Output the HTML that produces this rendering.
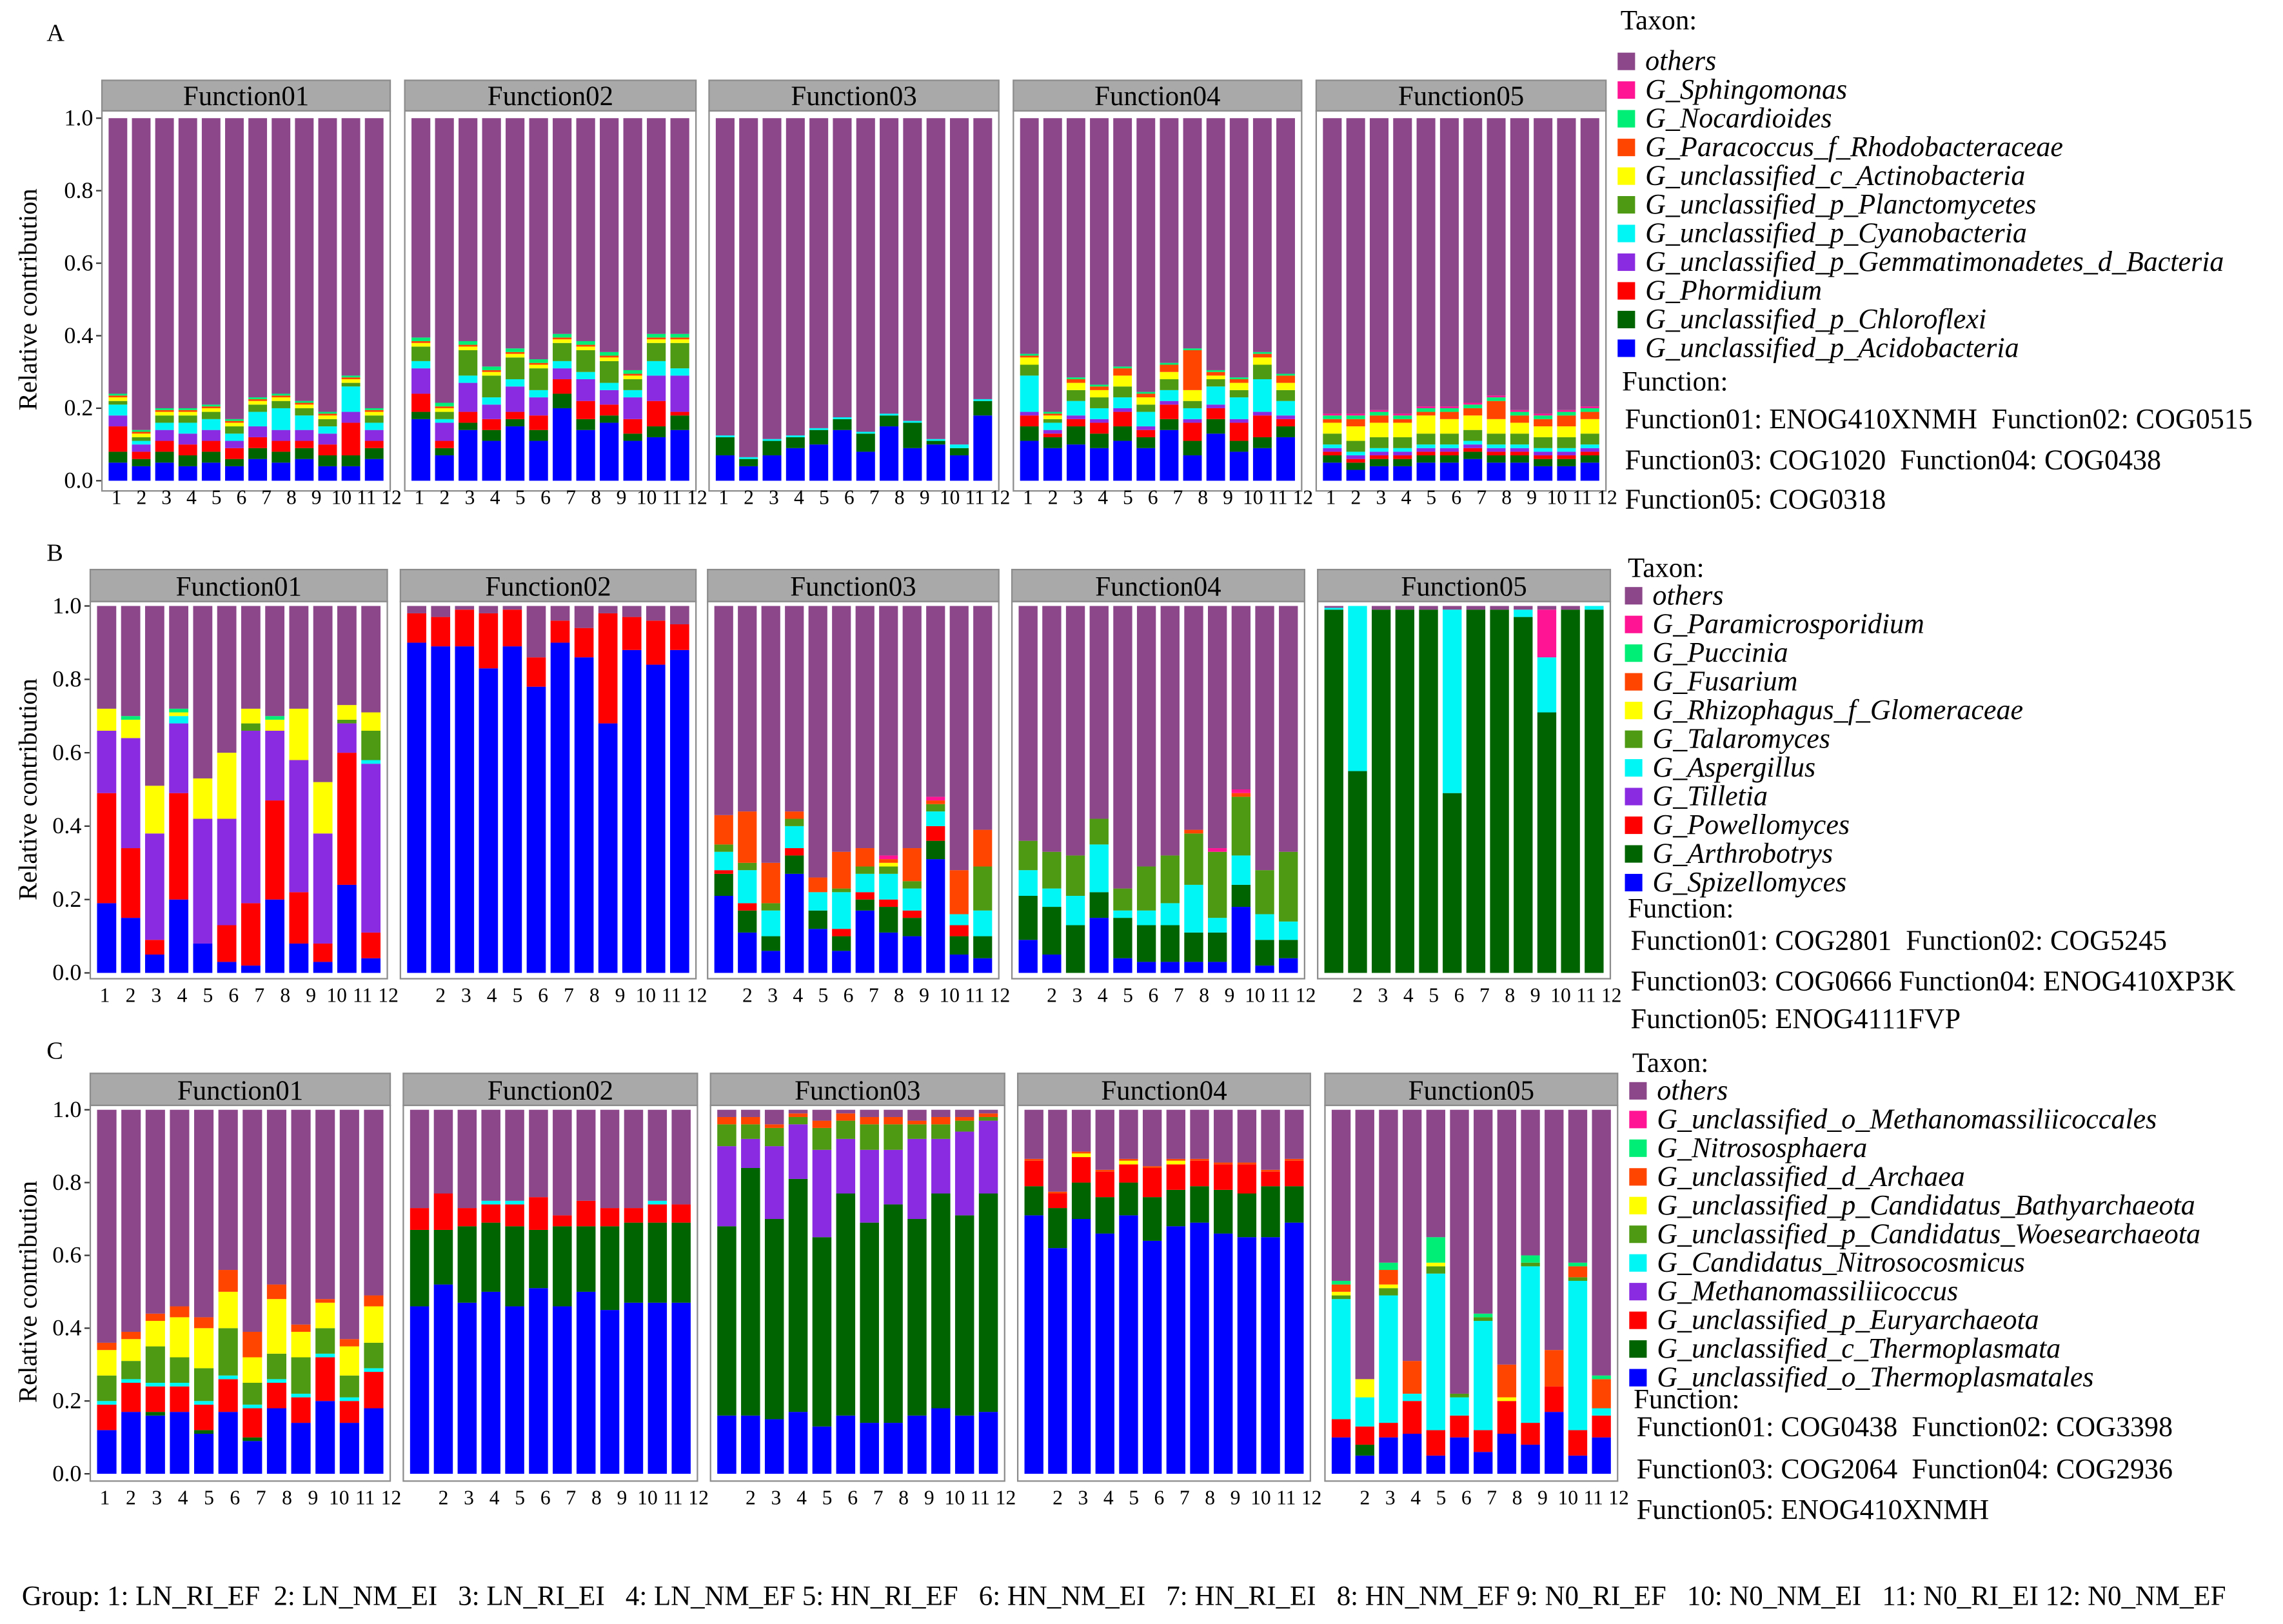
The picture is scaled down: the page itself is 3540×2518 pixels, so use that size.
<!DOCTYPE html>
<html><head><meta charset="utf-8">
<style>
html,body{margin:0;padding:0;background:#fff;}
svg{display:block;}
text{font-family:"Liberation Serif",serif;fill:#000;white-space:pre;}
.it{font-style:italic;}
</style></head>
<body>
<svg id="chart" width="3540" height="2518" viewBox="0 0 1568 1115" xmlns="http://www.w3.org/2000/svg">
<rect x="0" y="0" width="1568" height="1115" fill="#fff"/>
</svg>
<script>
// ---------- data ----------
const groups = ['1','2','3','4','5','6','7','8','9','10','11','12'];
const yTicks = [0, 0.2, 0.4, 0.6, 0.8, 1.0];
const yTickLabels = ['0.0','0.2','0.4','0.6','0.8','1.0'];
const panelTitles = ['Function01','Function02','Function03','Function04','Function05'];
const colors = ['#0000FF','#006400','#FF0000','#8A2BE2','#00F5F5','#4E9A12','#FFFF00','#FF4500','#00EE76','#FF1493'];
const othersColor = '#8B4789';

const taxaA = ['others','G_Sphingomonas','G_Nocardioides','G_Paracoccus_f_Rhodobacteraceae','G_unclassified_c_Actinobacteria','G_unclassified_p_Planctomycetes','G_unclassified_p_Cyanobacteria','G_unclassified_p_Gemmatimonadetes_d_Bacteria','G_Phormidium','G_unclassified_p_Chloroflexi','G_unclassified_p_Acidobacteria'];
const taxaB = ['others','G_Paramicrosporidium','G_Puccinia','G_Fusarium','G_Rhizophagus_f_Glomeraceae','G_Talaromyces','G_Aspergillus','G_Tilletia','G_Powellomyces','G_Arthrobotrys','G_Spizellomyces'];
const taxaC = ['others','G_unclassified_o_Methanomassiliicoccales','G_Nitrososphaera','G_unclassified_d_Archaea','G_unclassified_p_Candidatus_Bathyarchaeota','G_unclassified_p_Candidatus_Woesearchaeota','G_Candidatus_Nitrosocosmicus','G_Methanomassiliicoccus','G_unclassified_p_Euryarchaeota','G_unclassified_c_Thermoplasmata','G_unclassified_o_Thermoplasmatales'];
const funcA = ['Function01: ENOG410XNMH  Function02: COG0515','Function03: COG1020  Function04: COG0438','Function05: COG0318'];
const funcB = ['Function01: COG2801  Function02: COG5245','Function03: COG0666 Function04: ENOG410XP3K','Function05: ENOG4111FVP'];
const funcC = ['Function01: COG0438  Function02: COG3398','Function03: COG2064  Function04: COG2936','Function05: ENOG410XNMH'];

const z = [0,0,0,0,0,0,0,0,0,0,0,0];
const s1 = [.01,.01,.01,.01,.01,.01,.01,.01,.01,.01,.01,.01];
const s05 = [.005,.005,.005,.005,.005,.005,.005,.005,.005,.005,.005,.005];

// Row A
const A1 = [[.05,.04,.05,.04,.05,.04,.06,.05,.06,.04,.04,.06],[.03,.02,.03,.03,.03,.02,.03,.03,.03,.03,.03,.03],[.07,.02,.03,.03,.03,.03,.03,.03,.02,.03,.09,.02],[.03,.02,.03,.03,.03,.02,.03,.03,.03,.03,.03,.03],[.03,.01,.02,.03,.03,.02,.04,.06,.04,.02,.07,.02],[.01,.01,.02,.02,.02,.02,.02,.02,.02,.02,.01,.02],s1,s05,s05,z];
const A2 = [[.17,.07,.14,.11,.15,.11,.2,.14,.16,.11,.12,.14],[.02,.02,.02,.03,.02,.03,.04,.03,.02,.02,.03,.04],[.05,.02,.03,.03,.02,.04,.04,.05,.03,.04,.07,.01],[.07,.05,.08,.04,.07,.05,.03,.06,.04,.06,.07,.1],[.02,.01,.02,.02,.02,.02,.02,.02,.02,.02,.04,.02],[.04,.02,.07,.06,.06,.06,.05,.06,.06,.03,.05,.07],s1,s05,s1,z];
const A3 = [[.07,.04,.07,.09,.1,.14,.08,.15,.09,.1,.07,.18],[.05,.02,.04,.03,.04,.03,.05,.03,.07,.01,.02,.04],z,z,[.005,.005,.005,.005,.005,.005,.005,.005,.005,.005,.01,.005],z,z,z,z,z];
const A4 = [[.11,.09,.1,.09,.11,.09,.14,.07,.13,.08,.09,.12],[.04,.03,.05,.04,.04,.03,.03,.04,.04,.03,.03,.03],[.03,.01,.02,.03,.04,.02,.04,.05,.03,.05,.06,.02],s1,[.1,.02,.04,.03,.03,.04,.03,.03,.05,.06,.09,.04],[.03,.01,.03,.03,.03,.02,.03,.02,.02,.02,.04,.03],[.02,.01,.02,.02,.03,.02,.02,.03,.01,.02,.02,.02],[.005,.005,.01,.01,.02,.01,.02,.11,.01,.01,.01,.02],s05,z];
const A5 = [[.05,.03,.04,.04,.05,.05,.06,.05,.05,.04,.04,.05],[.02,.02,.02,.02,.02,.02,.02,.02,.02,.02,.02,.02],s1,s1,s1,[.03,.03,.03,.03,.03,.03,.03,.03,.03,.03,.03,.03],[.03,.04,.04,.04,.05,.04,.04,.04,.03,.03,.03,.04],[.01,.02,.02,.01,.01,.02,.02,.05,.02,.02,.03,.02],s1,s05];

// Row B
const B1 = [[.19,.15,.05,.2,.08,.03,.02,.2,.08,.03,.24,.04],z,[.3,.19,.04,.29,0,.1,.17,.27,.14,.05,.36,.07],[.17,.3,.29,.19,.34,.29,.47,.19,.36,.3,.08,.46],[0,0,0,.02,0,0,0,0,0,0,0,.01],[0,0,0,0,0,0,.02,0,0,0,.01,.08],[.06,.05,.13,.01,.11,.18,.04,.03,.14,.14,.04,.05],z,[0,.01,0,.01,0,0,0,.01,0,0,0,0],z];
const B2 = [[.9,.89,.89,.83,.89,.78,.9,.86,.68,.88,.84,.88],z,[.08,.08,.1,.15,.1,.08,.06,.08,.3,.09,.12,.07],z,z,z,z,z,z,z];
const B3 = [[.21,.11,.06,.27,.12,.06,.17,.11,.1,.31,.05,.04],[.06,.06,.04,.05,.05,.04,.03,.07,.05,.05,.05,.06],[.01,.02,0,.02,0,.02,.02,.02,.02,.04,.03,0],z,[.05,.09,.07,.06,.05,.1,.05,.07,.06,.04,.03,.07],[.02,.02,.02,.02,0,.01,.02,.02,.02,.02,0,.12],[0,0,0,0,0,0,0,.01,0,0,0,0],[.08,.14,.11,.02,.04,.1,.05,.01,.09,.01,.12,.1],z,[0,0,0,0,0,0,0,.01,0,.01,0,0]];
const B4 = [[.09,.05,0,.15,.04,.03,.03,.03,.03,.18,.02,.04],[.12,.13,.13,.07,.11,.1,.1,.08,.08,.06,.07,.05],z,z,[.07,.05,.08,.13,.02,.04,.06,.13,.04,.08,.07,.05],[.08,.1,.11,.07,.06,.12,.13,.14,.18,.16,.12,.19],z,[0,0,0,0,0,0,0,.01,0,.01,0,0],z,[0,0,0,0,0,0,0,0,.01,.01,0,0]];
const B5 = [z,[.99,.55,.99,.99,.99,.49,.99,.99,.97,.71,.99,.99],z,z,[.005,.45,0,0,0,.5,0,0,.02,.15,0,.01],z,z,z,z,[0,0,0,0,0,0,0,0,0,.13,0,0]];

// Row C
const C1 = [[.12,.17,.16,.17,.11,.17,.09,.18,.14,.2,.14,.18],[0,0,.01,0,.01,0,.01,0,0,0,0,0],[.07,.08,.07,.07,.07,.09,.08,.07,.07,.12,.06,.1],z,s1,[.07,.05,.1,.07,.09,.13,.06,.07,.1,.07,.06,.07],[.07,.06,.07,.11,.11,.1,.07,.15,.07,.07,.08,.1],[.02,.02,.02,.03,.03,.06,.07,.04,.02,.01,.02,.03],z,z];
const C2 = [[.46,.52,.47,.5,.46,.51,.46,.5,.45,.47,.47,.47],[.21,.15,.21,.19,.22,.16,.22,.18,.23,.22,.22,.22],[.06,.1,.05,.05,.06,.09,.03,.07,.05,.04,.05,.05],z,[0,0,0,.01,.01,0,0,0,0,0,.01,0],z,z,z,z,z];
const C3 = [[.16,.16,.15,.17,.13,.16,.14,.14,.16,.18,.16,.17],[.52,.68,.55,.64,.52,.61,.55,.6,.54,.59,.55,.6],z,[.22,.08,.2,.15,.24,.15,.2,.15,.22,.15,.23,.2],z,[.06,.04,.05,.02,.06,.05,.07,.07,.04,.04,.03,.01],z,[.02,.02,.01,.01,.02,.02,.02,.02,.01,.02,.01,.01],z,z];
const C4 = [[.71,.62,.7,.66,.71,.64,.68,.69,.66,.65,.65,.69],[.08,.11,.1,.1,.09,.12,.1,.1,.12,.12,.14,.1],[.07,.04,.07,.07,.05,.08,.07,.07,.07,.08,.04,.07],z,z,z,[0,0,.01,0,.01,0,.01,0,0,0,0,0],s05,z,z];
const C5 = [[.1,.05,.1,.11,.05,.1,.06,.11,.08,.17,.05,.1],[0,.03,0,0,0,0,0,0,0,0,0,0],[.05,.05,.04,.09,.07,.06,.06,.09,.06,.07,.07,.06],z,[.33,.08,.35,.02,.43,.05,.3,0,.43,0,.41,.02],[.01,0,.02,0,.02,.01,.01,0,.01,0,.01,0],[.01,.05,.01,0,.01,0,0,.01,0,0,0,0],[.02,0,.04,.09,0,0,0,.09,0,.1,.03,.08],[.01,0,.02,0,.07,0,.01,0,.02,0,.01,.01],z];

// ---------- drawing ----------
const NS = 'http://www.w3.org/2000/svg';
const svg = document.getElementById('chart');
function mk(tag, attrs, parent){
  const e = document.createElementNS(NS, tag);
  for (const k in attrs) e.setAttribute(k, attrs[k]);
  (parent||svg).appendChild(e);
  return e;
}
function txt(x,y,s,size,anchor,parent,cls){
  const t = mk('text',{x:x,y:y,'font-size':size,'text-anchor':anchor||'start'},parent);
  if (cls) t.setAttribute('class',cls);
  t.textContent = s;
  return t;
}

const rows = [
  {label:'A', ly:28, strip:[55,76], y1:81, y0:330, bottom:337, xl:346, panels:[[70,268],[278,478],[487,686],[696,894],[904,1103]], data:[A1,A2,A3,A4,A5], showFirst:true,
   taxa:taxaA, tx:1111, taxY:20, entY:42, func:funcA, fx:1116, fy:[268,294,322,349], key:'a'},
  {label:'B', ly:385, strip:[391,413], y1:416, y0:668, bottom:672, xl:688, panels:[[62,266],[275,478],[486,686],[695,896],[905,1106]], data:[B1,B2,B3,B4,B5], showFirst:false,
   taxa:taxaB, tx:1116, taxY:396, entY:409, func:funcB, fx:1120, fy:[630,652,680,706], key:'b'},
  {label:'C', ly:727, strip:[737,759], y1:762, y0:1012, bottom:1017, xl:1033, panels:[[62,268],[277,479],[488,690],[699,900],[910,1111]], data:[C1,C2,C3,C4,C5], showFirst:false,
   taxa:taxaC, tx:1119, taxY:736, entY:749, func:funcC, fx:1124, fy:[967,986,1015,1043], key:'c'}
];

rows.forEach((r, ri) => {
  const g = mk('g',{});
  
  
  const yScale = v => r.y0 - v*(r.y0 - r.y1);
  const lab = txt(32, r.ly, r.label, 17, 'start', g);
  
  
  const yt = txt(0,0,'Relative contribution',18,'middle',g);
  yt.setAttribute('transform','translate(25,'+((r.y0+r.y1)/2)+') rotate(-90)');
  
  
  const x0 = r.panels[0][0];
  yTicks.forEach((v,i) => {
    const y = yScale(v);
    mk('line',{x1:x0-4,x2:x0,y1:y,y2:y,stroke:'#333','stroke-width':1},g);
    const t = txt(x0-6, y+5, yTickLabels[i], 16, 'end', g);
    
    
  });
  r.panels.forEach((p, pi) => {
    const pg = mk('g',{},g);
    
    
    const [px0, px1] = p;
    mk('rect',{x:px0,y:r.strip[0],width:px1-px0,height:r.strip[1]-r.strip[0],fill:'#A9A9A9',stroke:'#8c8c8c','stroke-width':1},pg);
    const st = txt((px0+px1)/2, r.strip[1]-4, panelTitles[pi], 19, 'middle', pg);
    
    
    mk('rect',{x:px0,y:r.strip[1],width:px1-px0,height:r.bottom-r.strip[1],fill:'#fff',stroke:'#8c8c8c','stroke-width':1},pg);
    const W = px1 - px0;
    const band = (W - 6) / groups.length;
    const bw = band * 0.8;
    const d = r.data[pi];
    groups.forEach((gname, gi) => {
      const bx = px0 + 3 + gi*band + (band-bw)/2;
      let cum = 0;
      d.forEach((ser, si) => {
        const v = ser[gi];
        if (v > 0) {
          const rc = mk('rect',{x:bx, y:yScale(cum+v), width:bw, height:yScale(cum)-yScale(cum+v), fill:colors[si]},pg);
          
          
        }
        cum += v;
      });
      const ro = mk('rect',{x:bx, y:yScale(1), width:bw, height:yScale(cum)-yScale(1), fill:othersColor},pg);
      
      
      if (gi > 0 || pi === 0 || r.showFirst) {
        const lx = px0 + 10 + gi * ((W - 4) / 11.3);
        const xl = txt(lx, r.xl, gname, 14, 'middle', pg);
        
        
      }
    });
  });
  const lg = mk('g',{},g);
  
  
  txt(r.tx+2, r.taxY, 'Taxon:', 19, 'start', lg);
  r.taxa.forEach((name, i) => {
    const y = r.entY + i*19.7;
    const col = i === 0 ? othersColor : colors[r.taxa.length - 1 - i];
    const sq = mk('rect',{x:r.tx, y:y-6, width:12, height:12, fill:col},lg);
    
    
    const t = txt(r.tx+19, y+6, name, 19.5, 'start', lg, 'it');
    
    
  });
  txt(r.fx-2, r.fy[0], 'Function:', 19, 'start', lg);
  r.func.forEach((f, i) => {
    const t = txt(r.fx, r.fy[i+1], f, 19.5, 'start', lg);
    
    
  });
});

const foot = txt(15, 1102, 'Group: 1: LN_RI_EF  2: LN_NM_EI   3: LN_RI_EI   4: LN_NM_EF 5: HN_RI_EF   6: HN_NM_EI   7: HN_RI_EI   8: HN_NM_EF 9: N0_RI_EF   10: N0_NM_EI   11: N0_RI_EI 12: N0_NM_EF', 19, 'start');


</script>
</body></html>
